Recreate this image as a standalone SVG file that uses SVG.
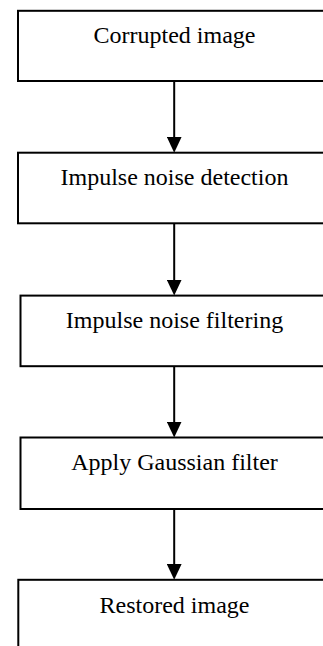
<svg xmlns="http://www.w3.org/2000/svg" width="323" height="646" viewBox="0 0 323 646">
  <style>
    .box { fill: #ffffff; stroke: #000000; stroke-width: 2; }
    .label { font-family: "Liberation Serif", "Times New Roman", serif; font-size: 24px; fill: #000000; text-anchor: middle; }
    .link { stroke: #000000; stroke-width: 2; fill: none; }
  </style>
  <defs>
    <!-- solid arrowhead; the line stops 10px short of the tip -->
    <marker id="arrowhead" viewBox="0 0 16 15" refX="6" refY="7.5" markerWidth="16" markerHeight="15" markerUnits="userSpaceOnUse" orient="auto">
      <path d="M0,0 L16,7.5 L0,15 Z" fill="#000000"/>
    </marker>
  </defs>
  <rect width="323" height="646" fill="#ffffff"/>

  <g id="node-corrupted">
    <rect class="box" x="18" y="10.8" width="312" height="70.2"/>
    <text class="label" x="174.5" y="42.8">Corrupted image</text>
  </g>
  <g id="node-detection">
    <rect class="box" x="18" y="152.7" width="312" height="70.6"/>
    <text class="label" x="174.5" y="185">Impulse noise detection</text>
  </g>
  <g id="node-filtering">
    <rect class="box" x="20.5" y="295.6" width="312" height="70.6"/>
    <text class="label" x="174.5" y="328">Impulse noise filtering</text>
  </g>
  <g id="node-gaussian">
    <rect class="box" x="20.5" y="437.5" width="312" height="71.5"/>
    <text class="label" x="174.5" y="470">Apply Gaussian filter</text>
  </g>
  <g id="node-restored">
    <rect class="box" x="18.3" y="579.8" width="312" height="80"/>
    <text class="label" x="174.5" y="612.7">Restored image</text>
  </g>

  <g id="connectors">
    <line class="link" x1="174.2" y1="81" x2="174.2" y2="142.7" marker-end="url(#arrowhead)"/>
    <line class="link" x1="174.2" y1="223.3" x2="174.2" y2="285.6" marker-end="url(#arrowhead)"/>
    <line class="link" x1="174.2" y1="366.2" x2="174.2" y2="427.5" marker-end="url(#arrowhead)"/>
    <line class="link" x1="174.2" y1="509" x2="174.2" y2="569.8" marker-end="url(#arrowhead)"/>
  </g>
</svg>
